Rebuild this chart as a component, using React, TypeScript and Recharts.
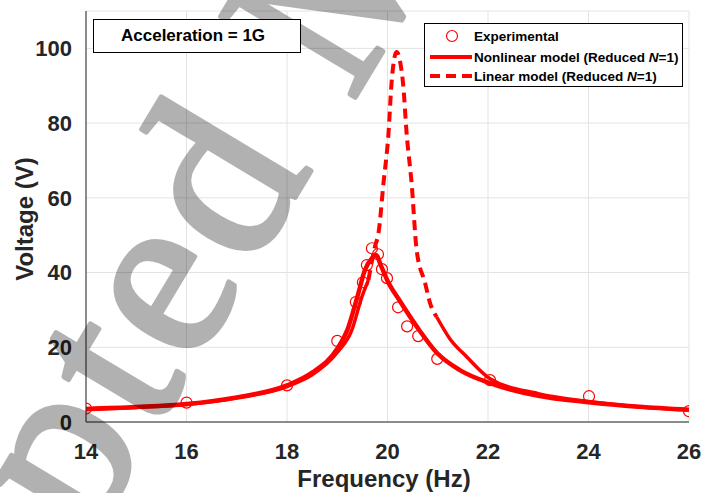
import React from 'react';
import { ComposedChart, Line, XAxis, YAxis, CartesianGrid, Legend } from 'recharts';

// axis ticks
const xTicks = [14, 16, 18, 20, 22, 24, 26];
const yTicks = [0, 20, 40, 60, 80, 100];

// experimental points (Hz, V)
const expFreq = [14, 16, 18, 19, 19.37, 19.51, 19.59, 19.69, 19.81, 19.89, 19.99, 20.21, 20.39, 20.61, 20.99, 22.04, 24.01, 26];
const expVolt = [3.6, 5.2, 9.8, 21.7, 32.1, 37.4, 42.0, 46.5, 44.9, 40.9, 38.5, 30.7, 25.6, 23.0, 16.9, 11.2, 6.9, 2.9];

// nonlinear model (Reduced N=1)
const nlFreq = [14, 15, 16, 17, 18, 18.5, 19, 19.2, 19.4, 19.55, 19.69, 19.77, 19.88, 20.0, 20.25, 20.59, 20.99, 21.44, 22.04, 23, 24, 25, 26];
const nlVolt = [3.5, 4.0, 4.8, 6.6, 9.8, 13.2, 19.6, 24.6, 33.5, 40.6, 43.8, 44.7, 41.5, 37.8, 32.3, 25.4, 18.4, 13.9, 10.4, 7.0, 5.3, 4.1, 3.3];

// linear model (Reduced N=1)
const linFreq = [14, 15, 16, 17, 18, 18.5, 19, 19.29, 19.49, 19.62, 19.75, 19.82, 19.92, 20.02, 20.08, 20.18, 20.31, 20.38, 20.48, 20.58, 20.75, 20.85, 20.98, 21.24, 21.58, 22.04, 23, 24, 25, 26];
const linVolt = [3.3, 3.9, 4.7, 6.4, 9.5, 12.6, 18.6, 24.6, 33.5, 38.0, 46.9, 50.5, 63.9, 77.3, 90.6, 99.0, 90.6, 77.3, 63.9, 46.0, 37.1, 31.7, 28.1, 22.3, 17.4, 11.6, 7.6, 5.5, 4.1, 3.2];

const RED = '#ff0000';
const FONT = '"Liberation Sans", Arial, Helvetica, sans-serif';

const expData = expFreq.map((f, i) => ({ f, v: expVolt[i] }));
const nlData = nlFreq.map((f, i) => ({ f, v: nlVolt[i] }));
const linData = linFreq.map((f, i) => ({ f, v: linVolt[i] }));
// the steep part of the linear curve shows as dashes, the dense tails look solid
const linLow = linData.filter((d) => d.f <= 19.62);
const linPeak = linData.filter((d) => d.f >= 19.62 && d.f <= 20.98);
const linHigh = linData.filter((d) => d.f >= 20.98);

const LegendBox = () => (
  <svg width={259} height={64} style={{ display: 'block' }}>
    <rect x={0.5} y={0.5} width={258} height={63} fill="#fff" stroke="#000" strokeWidth={1} />
    <circle cx={28} cy={13} r={5.5} fill="none" stroke={RED} strokeWidth={1.2} />
    <line x1={6} x2={48} y1={34} y2={34} stroke={RED} strokeWidth={4} />
    <line x1={6} x2={48} y1={53} y2={53} stroke={RED} strokeWidth={4} strokeDasharray="10 6" />
    <g fontFamily={FONT} fontSize={13.5} fontWeight="bold" fill="#000">
      <text x={50} y={18}>Experimental</text>
      <text x={50} y={39}>
        Nonlinear model (Reduced <tspan fontStyle="italic">N</tspan>=1)
      </text>
      <text x={50} y={58}>
        Linear model (Reduced <tspan fontStyle="italic">N</tspan>=1)
      </text>
    </g>
  </svg>
);

const noTick = () => <g />;

export default function App() {
  return (
    <div style={{ position: 'absolute', left: 0, top: 0, width: 702, height: 493, background: '#fff', overflow: 'hidden' }}>
      <ComposedChart width={702} height={493} margin={{ top: 11, right: 13, bottom: 0, left: 0 }}>
        <CartesianGrid stroke="#e3e3e3" strokeWidth={1} />
        <XAxis
          dataKey="f"
          type="number"
          domain={[14, 26]}
          ticks={xTicks}
          allowDataOverflow
          height={71}
          tickLine={false}
          tickMargin={15}
          stroke="#262626"
          tick={{ fill: '#262626', fontSize: 22, fontWeight: 'bold', fontFamily: FONT }}
          label={() => (
            <text x={384} y={487} textAnchor="middle" fill="#262626" fontSize={24} fontWeight="bold" fontFamily={FONT}>
              Frequency (Hz)
            </text>
          )}
        />
        <XAxis
          xAxisId="top"
          orientation="top"
          dataKey="f"
          type="number"
          domain={[14, 26]}
          ticks={xTicks}
          allowDataOverflow
          height={0}
          mirror
          tickSize={5}
          tick={noTick}
          stroke="#262626"
        />
        <YAxis
          type="number"
          domain={[0, 110]}
          ticks={yTicks}
          allowDataOverflow
          width={86}
          tickLine={false}
          tickMargin={8}
          stroke="#262626"
          tick={{ fill: '#262626', fontSize: 22, fontWeight: 'bold', fontFamily: FONT }}
          label={() => (
            <text x={33} y={219} transform="rotate(-90 33 219)" textAnchor="middle" fill="#262626" fontSize={24} fontWeight="bold" fontFamily={FONT}>
              Voltage (V)
            </text>
          )}
        />
        <YAxis
          yAxisId="right"
          orientation="right"
          type="number"
          domain={[0, 110]}
          ticks={yTicks}
          allowDataOverflow
          width={0}
          mirror
          tickSize={5}
          tick={noTick}
          stroke="#262626"
        />
        <Legend
          layout="horizontal"
          verticalAlign="middle"
          align="center"
          content={() => <LegendBox />}
          wrapperStyle={{ left: 424, top: 23, width: 259, height: 64 }}
        />
        <Line data={nlData} dataKey="v" type="monotone" stroke={RED} strokeWidth={4.5} dot={false} activeDot={false} isAnimationActive={false} />
        <Line data={linLow} dataKey="v" type="monotone" stroke={RED} strokeWidth={3.5} dot={false} activeDot={false} isAnimationActive={false} />
        <Line data={linPeak} dataKey="v" type="monotone" stroke={RED} strokeWidth={4} strokeDasharray="10 6" dot={false} activeDot={false} isAnimationActive={false} />
        <Line data={linHigh} dataKey="v" type="monotone" stroke={RED} strokeWidth={3.5} dot={false} activeDot={false} isAnimationActive={false} />
        <Line
          data={expData}
          dataKey="v"
          stroke="none"
          dot={{ r: 5.5, stroke: RED, strokeWidth: 1.2, fill: 'none' }}
          activeDot={false}
          isAnimationActive={false}
        />
      </ComposedChart>
      {/* watermark */}
      <svg width={702} height={493} style={{ position: 'absolute', left: 0, top: 0, pointerEvents: 'none' }}>
        <g opacity={0.3}>
          <text
            x={0}
            y={0}
            transform="translate(-183 993) rotate(-59)"
            fontFamily='"Liberation Serif", "Times New Roman", serif'
            fontSize={240}
            letterSpacing={8}
            fill="#000"
            stroke="#000"
            strokeWidth={5}
            strokeLinejoin="round"
          >
            Accepted Manuscript
          </text>
        </g>
      </svg>
      <div
        style={{
          position: 'absolute',
          left: 93,
          top: 19,
          width: 208,
          height: 34,
          boxSizing: 'border-box',
          border: '1px solid #000',
          background: '#fff',
          fontFamily: FONT,
          fontWeight: 'bold',
          fontSize: 17,
          lineHeight: '32px',
          paddingLeft: 27,
          color: '#000',
        }}
      >
        Acceleration = 1G
      </div>
    </div>
  );
}
